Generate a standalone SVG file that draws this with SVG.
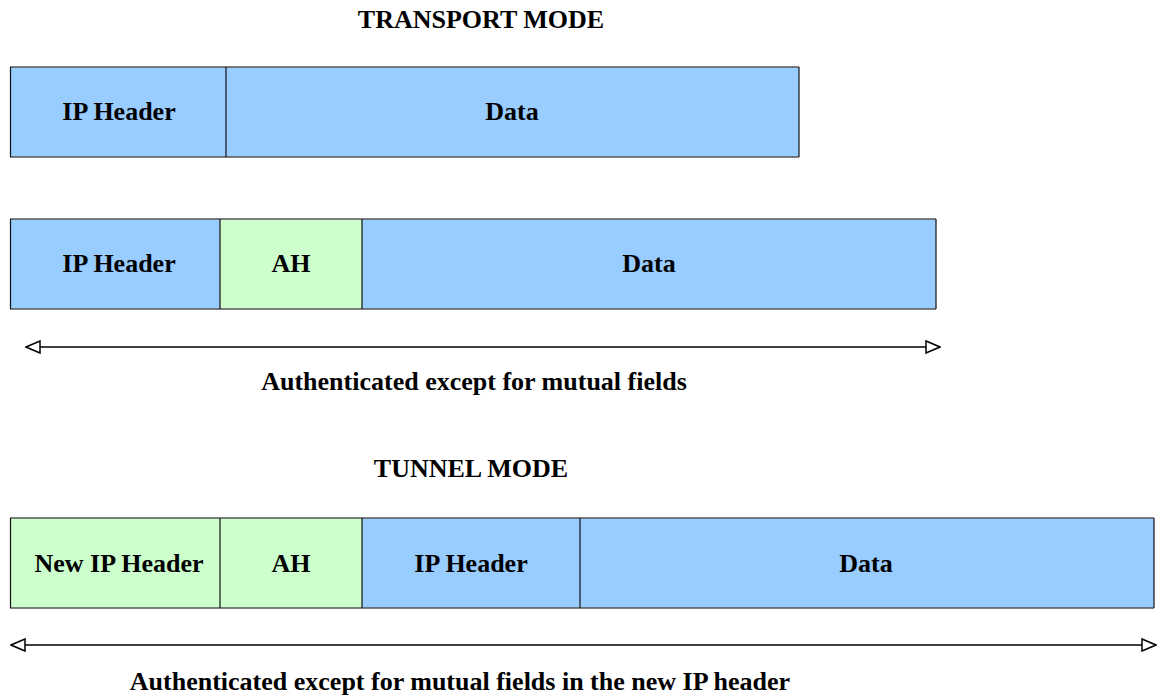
<svg xmlns="http://www.w3.org/2000/svg" width="1158" height="698" viewBox="0 0 1158 698">
  <style>
    .lbl { font-family: "Liberation Serif", "Times New Roman", serif; font-weight: bold; font-size: 26px; fill: #000; text-anchor: middle; }
    .blue { fill: #99CCFF; }
    .green { fill: #CCFFCC; }
    .edge { stroke: #555; stroke-width: 1.5; }
    .div { stroke: #111; stroke-width: 1.2; }
    .conn { stroke: #000; stroke-width: 1.5; fill: none; }
  </style>
  <defs>
    <marker id="openHead" viewBox="0 0 16 14" refX="15" refY="7" markerWidth="16" markerHeight="14" markerUnits="userSpaceOnUse" orient="auto-start-reverse">
      <path d="M1,1 L15,7 L1,13 Z" fill="#fff" stroke="#000" stroke-width="1.5"/>
    </marker>
  </defs>
  <rect width="1158" height="698" fill="#fff"/>

  <text class="lbl" x="481" y="28">TRANSPORT MODE</text>

  <!-- original packet -->
  <g id="t1-ip">
    <rect class="blue" x="10" y="67" width="216" height="90"/>
    <text class="lbl" x="119" y="120">IP Header</text>
  </g>
  <g id="t1-data">
    <rect class="blue" x="226" y="67" width="573" height="90"/>
    <text class="lbl" x="512" y="120">Data</text>
  </g>
  <g id="t1-frame">
    <line class="edge" x1="10" y1="67" x2="799" y2="67"/>
    <line class="edge" x1="10" y1="157" x2="799" y2="157"/>
    <line class="div" x1="10.5" y1="67" x2="10.5" y2="157"/>
    <line class="div" x1="226" y1="67" x2="226" y2="157"/>
    <line class="div" x1="799" y1="67" x2="799" y2="157"/>
  </g>

  <!-- packet with AH, transport mode -->
  <g id="t2-ip">
    <rect class="blue" x="10" y="219" width="210" height="90"/>
    <text class="lbl" x="119" y="272">IP Header</text>
  </g>
  <g id="t2-ah">
    <rect class="green" x="220" y="219" width="142" height="90"/>
    <text class="lbl" x="291" y="272">AH</text>
  </g>
  <g id="t2-data">
    <rect class="blue" x="362" y="219" width="574" height="90"/>
    <text class="lbl" x="649" y="272">Data</text>
  </g>
  <g id="t2-frame">
    <line class="edge" x1="10" y1="219" x2="936" y2="219"/>
    <line class="edge" x1="10" y1="309" x2="936" y2="309"/>
    <line class="div" x1="10.5" y1="219" x2="10.5" y2="309"/>
    <line class="div" x1="220" y1="219" x2="220" y2="309"/>
    <line class="div" x1="362" y1="219" x2="362" y2="309"/>
    <line class="div" x1="936" y1="219" x2="936" y2="309"/>
  </g>

  <g id="connectors">
    <line class="conn" x1="26" y1="347" x2="940" y2="347" marker-start="url(#openHead)" marker-end="url(#openHead)"/>
    <line class="conn" x1="11" y1="645" x2="1156" y2="645" marker-start="url(#openHead)" marker-end="url(#openHead)"/>
  </g>

  <text class="lbl" x="474" y="390">Authenticated except for mutual fields</text>

  <text class="lbl" x="471" y="477">TUNNEL MODE</text>

  <!-- packet with AH, tunnel mode -->
  <g id="u-newip">
    <rect class="green" x="10" y="518" width="210" height="90"/>
    <text class="lbl" x="119" y="572">New IP Header</text>
  </g>
  <g id="u-ah">
    <rect class="green" x="220" y="518" width="142" height="90"/>
    <text class="lbl" x="291" y="572">AH</text>
  </g>
  <g id="u-ip">
    <rect class="blue" x="362" y="518" width="218" height="90"/>
    <text class="lbl" x="471" y="572">IP Header</text>
  </g>
  <g id="u-data">
    <rect class="blue" x="580" y="518" width="574" height="90"/>
    <text class="lbl" x="866" y="572">Data</text>
  </g>
  <g id="u-frame">
    <line class="edge" x1="10" y1="518" x2="1154" y2="518"/>
    <line class="edge" x1="10" y1="608" x2="1154" y2="608"/>
    <line class="div" x1="10.5" y1="518" x2="10.5" y2="608"/>
    <line class="div" x1="220" y1="518" x2="220" y2="608"/>
    <line class="div" x1="362" y1="518" x2="362" y2="608"/>
    <line class="div" x1="580" y1="518" x2="580" y2="608"/>
    <line class="div" x1="1154" y1="518" x2="1154" y2="608"/>
  </g>

  <text class="lbl" x="460" y="690">Authenticated except for mutual fields in the new IP header</text>
</svg>
